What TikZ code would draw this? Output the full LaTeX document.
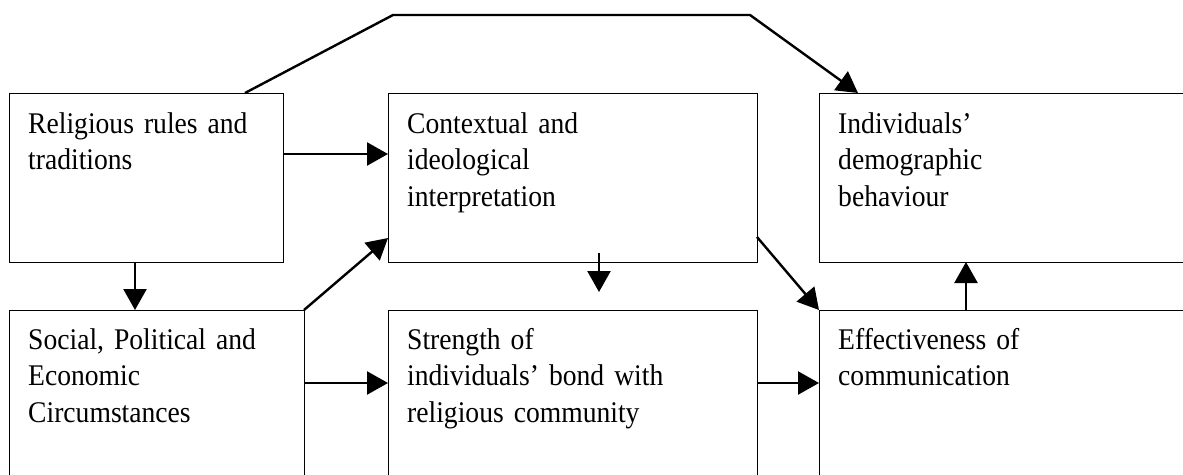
\documentclass[tikz,border=0pt]{standalone}
\usepackage{fontspec}
\setmainfont{Liberation Serif}[FakeStretch=0.92,WordSpace=0.8]
\usepackage{tikz}
\usetikzlibrary{arrows.meta, positioning, calc}

\begin{document}
\begin{tikzpicture}[x=1pt,y=-1pt,
		box/.style={draw,line width=1pt,rectangle,anchor=north west,inner sep=0pt,outer sep=0pt},
		txt/.style={anchor=base west,inner sep=0pt,align=left,text width=330pt,font=\fontsize{30}{36.5}\selectfont},
		arr/.style={line width=2.4pt,-{Triangle[length=21pt,width=23pt]}}]
	\useasboundingbox (0,0) rectangle (1183,474);
	\clip (0,0) rectangle (1183,474);
	\node[box,minimum width=274pt,minimum height=169pt] (rel) at (9,93) {};
	\node[box,minimum width=369pt,minimum height=169pt] (ctx) at (388,93) {};
	\node[box,minimum width=420pt,minimum height=169pt] (ind) at (819,93) {};
	\node[box,minimum width=295pt,minimum height=200pt] (soc) at (9,310) {};
	\node[box,minimum width=369pt,minimum height=200pt] (str) at (388,310) {};
	\node[box,minimum width=420pt,minimum height=200pt] (eff) at (819,310) {};
	\node[txt] (reltxt) at ($(rel.north west)+(19,40)$) {Religious rules and\\traditions};
	\node[txt] (ctxtxt) at ($(ctx.north west)+(19,40)$) {Contextual and\\ideological\\interpretation};
	\node[txt] (indtxt) at ($(ind.north west)+(19,40)$) {Individuals’\\demographic\\behaviour};
	\node[txt] (soctxt) at ($(soc.north west)+(19,39)$) {Social, Political and\\Economic\\Circumstances};
	\node[txt] (strtxt) at ($(str.north west)+(19,39)$) {Strength of\\individuals’ bond with\\religious community};
	\node[txt] (efftxt) at ($(eff.north west)+(19,39)$) {Effectiveness of\\communication};
	\coordinate (r1) at ($(rel.north east)+(0,61)$);
	\coordinate (r2) at ($(rel.south west)+(126,0)$);
	\coordinate (t0) at ($(rel.north west)+(236,0)$);
	\coordinate (t1) at (393,15);
	\coordinate (t2) at (750,15);
	\coordinate (s1) at ($(soc.north east)+(0,73)$);
	\coordinate (s2) at ($(str.north east)+(0,73)$);
	\coordinate (e1) at ($(eff.north west)+(147,0)$);
	\draw[arr] (r1) -- (r1 -| ctx.west);
	\draw[arr] (r2) -- (r2 |- soc.north);
	\draw[arr] (soc.north east) -- ($(ctx.south west)+(0,-24)$);
	\draw[arr] (t0) -- (t1) -- (t2) -- ($(ind.north west)+(39,0)$);
	\draw[arr] ($(ctx.south west)+(211,-9)$) -- ($(str.north west)+(211,-18)$);
	\draw[arr] ($(ctx.south east)+(0,-25)$) -- (eff.north west);
	\draw[arr] (s1) -- (s1 -| str.west);
	\draw[arr] (s2) -- (s2 -| eff.west);
	\draw[arr] (e1) -- (e1 |- ind.south);
\end{tikzpicture}
\end{document}
